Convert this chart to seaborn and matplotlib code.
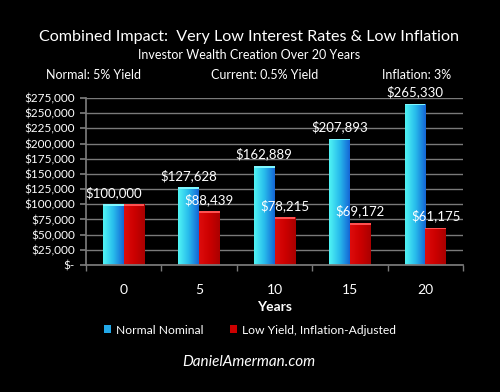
import matplotlib
matplotlib.use("Agg")
from matplotlib import pyplot as plt
from matplotlib.colors import LinearSegmentedColormap
import numpy as np
import pandas as pd
import seaborn as sns

years = ["0", "5", "10", "15", "20"]
normal_nominal = [100000, 127628, 162889, 207893, 265330]
low_yield_real = [100000, 88439, 78215, 69172, 61175]
series_names = ["Normal Nominal", "Low Yield, Inflation-Adjusted"]
y_ticks = list(range(0, 275001, 25000))

df = pd.DataFrame({
    "Years": years * 2,
    "value": normal_nominal + low_yield_real,
    "series": [series_names[0]] * len(years) + [series_names[1]] * len(years),
})

sns.set_theme(style="dark")
plt.rcParams["font.family"] = ["Lato", "DejaVu Sans"]
plt.rcParams["text.color"] = "white"

fig = plt.figure(figsize=(5, 3.92), dpi=100, facecolor="black")
ax = fig.add_axes([0.172, 0.324, 0.754, 0.426])
ax.set_facecolor("black")

sns.barplot(data=df, x="Years", y="value", hue="series",
            palette=["#22a8e8", "#cc0000"], width=0.55, gap=0,
            saturation=1, edgecolor="none", ax=ax, legend=True)

# gradient fill on the bars
cmaps = {
    0: LinearSegmentedColormap.from_list("cy", ["#50f4f4", "#28bcec", "#1466d6"]),
    1: LinearSegmentedColormap.from_list("rd", ["#de0c0c", "#cc0000", "#aa0000"]),
}
caps = ["#7ff8ff", "#ff5050"]
grad = np.linspace(0, 1, 64).reshape(1, -1)
n = len(years)
bars = ax.patches[:2 * n]
for i, p in enumerate(bars):
    x0, w, h = p.get_x(), p.get_width(), p.get_height()
    im = ax.imshow(grad, cmap=cmaps[i // n], aspect="auto",
                   extent=(x0, x0 + w, 0, h), zorder=p.get_zorder() + 0.1)
    im.set_clip_path(p)
    # lighter top face
    ax.fill_between([x0, x0 + w], h - 2500, h, color=caps[i // n],
                    linewidth=0, zorder=p.get_zorder() + 0.2)

ax.set_xlim(-0.5, n - 0.5)
ax.set_ylim(0, 275000)

# value labels
for i in range(n):
    xn = bars[i].get_x() + bars[i].get_width() / 2
    ax.annotate(f"${normal_nominal[i]:,}", (xn, normal_nominal[i]),
                xytext=(0, 4), textcoords="offset points",
                ha="center", va="bottom", color="white", fontsize=9.5)
    if low_yield_real[i] != normal_nominal[i]:
        xr = bars[n + i].get_x() + bars[n + i].get_width() / 2
        ax.annotate(f"${low_yield_real[i]:,}", (xr, low_yield_real[i]),
                    xytext=(0, 4), textcoords="offset points",
                    ha="center", va="bottom", color="white", fontsize=9.5)

ax.set_yticks(y_ticks)
ax.set_yticklabels(["$-"] + [f"${v:,}" for v in y_ticks[1:]])
ax.yaxis.grid(True, color="#7a7a7a", linewidth=1)
ax.xaxis.grid(False)
ax.set_axisbelow(True)
ax.tick_params(axis="y", colors="white", labelsize=8.5, length=4,
               color="#7a7a7a", left=True, pad=4)
ax.tick_params(axis="x", colors="white", labelsize=10, bottom=False, pad=8)
ax.set_xticks(np.arange(-0.5, n, 1), minor=True)
ax.tick_params(axis="x", which="minor", bottom=True, length=4, color="#7a7a7a")
for s in ["top", "right"]:
    ax.spines[s].set_visible(False)
for s in ["left", "bottom"]:
    ax.spines[s].set_visible(True)
    ax.spines[s].set_color("#7a7a7a")
ax.set_ylabel("")
ax.set_xlabel("Years", color="white", fontsize=10, fontweight="bold", labelpad=3)

handles, labels = ax.get_legend_handles_labels()
ax.legend(handles, labels, loc="center", bbox_to_anchor=(0.5, 0.158),
          bbox_transform=fig.transFigure, ncol=2, frameon=False,
          fontsize=8.7, labelcolor="white", handlelength=0.6, handleheight=0.6,
          handletextpad=0.4, columnspacing=2.2)

fig.text(0.498, 0.906, "Combined Impact:  Very Low Interest Rates & Low Inflation",
         ha="center", va="center", fontsize=11.6, color="white")
fig.text(0.498, 0.86, "Investor Wealth Creation Over 20 Years",
         ha="center", va="center", fontsize=9, color="white")
fig.text(0.188, 0.809, "Normal: 5% Yield", ha="center", va="center", fontsize=9)
fig.text(0.53, 0.809, "Current: 0.5% Yield", ha="center", va="center", fontsize=9)
fig.text(0.834, 0.809, "Inflation: 3%", ha="center", va="center", fontsize=9)
fig.text(0.498, 0.077, "DanielAmerman.com", ha="center", va="center",
         fontsize=11, style="italic", color="white")

fig.savefig("out.png", dpi=100, facecolor="black")
